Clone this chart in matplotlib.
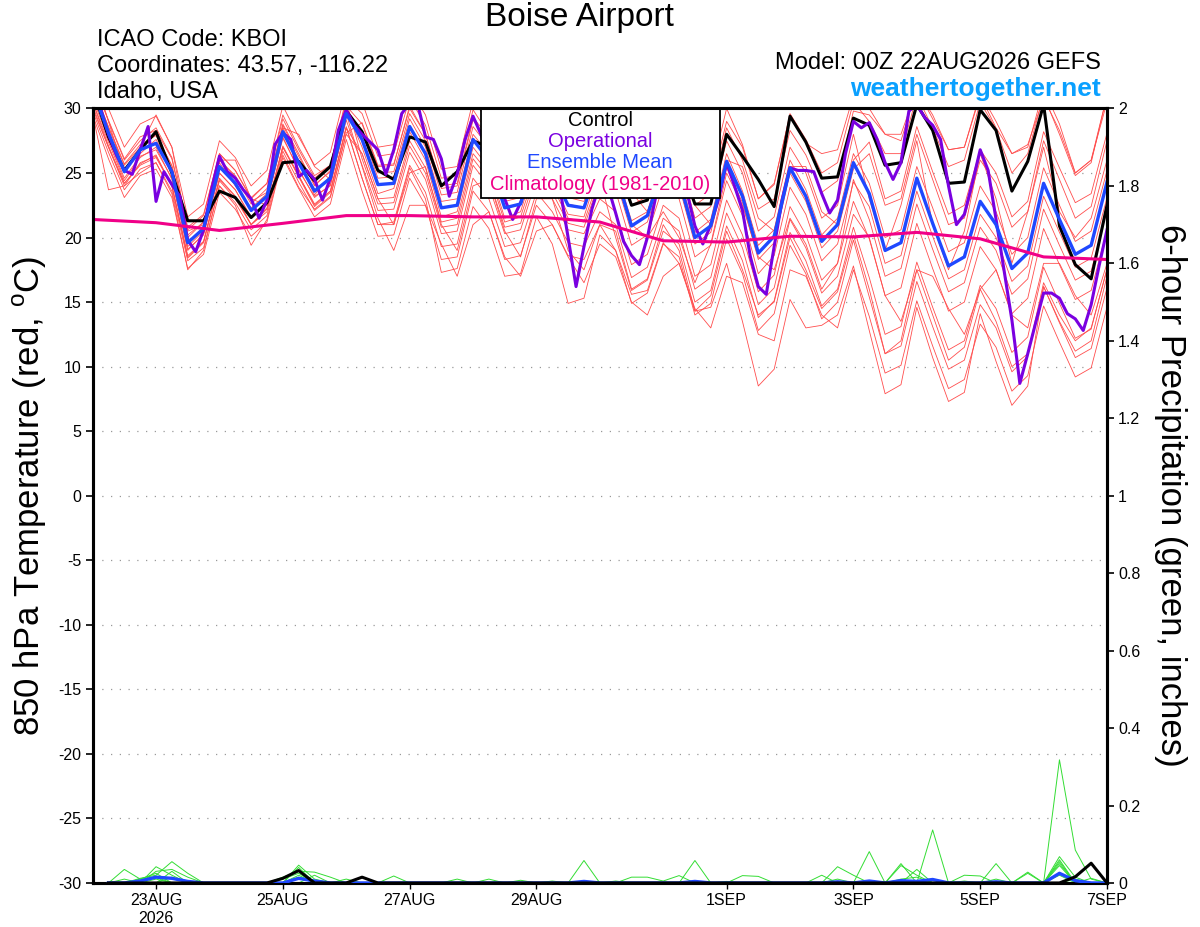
import numpy as np
import matplotlib
matplotlib.use('Agg')
import matplotlib.pyplot as plt
from matplotlib.patches import Rectangle

plt.rcParams['font.family'] = ['Liberation Sans', 'DejaVu Sans']
plt.rcParams['axes.unicode_minus'] = False

# time axis: hours after 00Z 22AUG2026
hours6 = np.arange(65) * 6
hours3 = np.arange(129) * 3
precip_hours = np.arange(1, 65) * 6
clim_hours = np.arange(17) * 24

tick_hours = [24, 72, 120, 168, 240, 288, 336, 384]
tick_labels = ['23AUG\n2026', '25AUG', '27AUG', '29AUG', '1SEP', '3SEP', '5SEP', '7SEP']

# 850 hPa temperature, ensemble members (6-hourly)
m01 = [32.0, 28.5, 25.6, 27.0, 28.0, 25.5, 20.0, 21.2, 26.0, 24.8, 22.8, 23.5, 28.8, 26.5, 24.0, 25.2, 30.2,
       28.8, 25.5, 25.6, 30.2, 28.0, 24.0, 24.2, 29.3, 27.8, 24.0, 24.5, 28.3, 27.0, 24.5, 24.3, 28.2,
       27.8, 24.0, 24.6, 28.6, 27.5, 23.2, 24.0, 29.0, 27.0, 23.0, 24.1, 29.6, 27.6, 25.0, 25.8, 30.5,
       29.0, 26.5, 26.5, 31.0, 28.5, 25.5, 26.0, 30.5, 28.4, 25.0, 26.5, 31.0, 28.0, 24.8, 25.8, 31.0]
m02 = [32.5, 29.0, 26.0, 27.5, 28.5, 26.2, 20.8, 21.8, 26.5, 25.2, 23.0, 24.2, 29.5, 27.0, 24.8, 25.6, 30.8,
       29.6, 26.3, 26.5, 30.8, 28.7, 24.6, 24.8, 29.9, 28.0, 24.5, 24.6, 28.8, 27.2, 25.0, 24.8, 28.5,
       27.5, 23.5, 24.0, 28.3, 27.0, 22.5, 23.4, 28.5, 26.0, 22.2, 23.0, 28.3, 26.4, 23.5, 24.4, 29.8,
       29.5, 28.0, 27.5, 31.5, 29.2, 26.8, 27.0, 31.2, 29.0, 26.5, 27.2, 30.8, 28.3, 25.0, 26.0, 30.5]
m03 = [30.5, 27.4, 24.4, 26.2, 27.0, 24.5, 19.0, 20.3, 25.0, 23.7, 21.5, 22.8, 27.8, 25.2, 23.2, 24.0, 29.4,
       28.3, 25.0, 25.1, 29.6, 27.5, 23.3, 23.5, 28.6, 27.0, 23.3, 23.6, 27.5, 26.0, 23.8, 23.4, 27.3,
       26.4, 22.5, 23.2, 27.0, 26.0, 21.5, 22.4, 27.5, 25.0, 20.5, 21.6, 27.0, 25.0, 21.5, 22.5, 28.0,
       23.0, 19.0, 22.5, 27.5, 21.0, 17.5, 20.5, 26.5, 23.0, 18.0, 22.0, 27.0, 22.0, 20.0, 21.5, 26.0]
m04 = [31.2, 28.0, 25.3, 26.5, 27.6, 25.3, 19.3, 20.5, 25.8, 24.0, 22.3, 23.4, 28.5, 26.0, 23.3, 24.8, 29.9,
       27.0, 23.4, 23.8, 28.2, 26.0, 21.6, 22.0, 27.0, 25.4, 21.5, 22.0, 26.0, 24.4, 21.8, 21.6, 25.5,
       25.3, 21.3, 22.0, 26.0, 25.0, 20.4, 21.4, 26.5, 23.6, 19.4, 20.6, 26.0, 23.7, 20.2, 21.5, 26.5,
       24.2, 20.0, 20.6, 25.5, 22.3, 18.9, 19.6, 24.0, 22.0, 18.7, 20.0, 25.4, 22.5, 19.7, 20.5, 25.2]
m05 = [33.0, 29.0, 25.0, 27.0, 29.5, 27.0, 20.5, 21.0, 26.0, 26.0, 23.0, 22.5, 28.5, 28.0, 25.5, 24.5, 30.0,
       28.2, 24.6, 24.7, 29.2, 27.0, 22.8, 23.0, 28.0, 26.5, 22.8, 23.1, 27.0, 25.5, 23.1, 22.8, 26.5,
       24.5, 20.4, 21.2, 25.0, 24.0, 19.5, 20.4, 25.4, 22.7, 18.3, 19.6, 25.0, 22.8, 19.2, 20.5, 25.3,
       26.5, 22.5, 23.0, 28.0, 24.5, 21.0, 21.5, 26.0, 24.2, 20.8, 22.0, 27.5, 24.5, 21.5, 22.4, 27.5]
m06 = [30.0, 27.0, 24.0, 25.8, 26.3, 24.0, 18.6, 19.7, 24.5, 23.2, 21.0, 22.2, 27.0, 24.8, 22.6, 23.6, 28.5,
       26.5, 23.0, 23.1, 27.5, 25.4, 21.2, 21.5, 26.5, 25.0, 21.2, 21.6, 25.4, 24.0, 21.5, 21.2, 24.8,
       23.6, 19.4, 20.2, 24.0, 23.0, 18.5, 19.4, 24.4, 21.7, 17.2, 18.6, 23.9, 21.8, 18.2, 19.5, 24.3,
       22.4, 18.0, 18.6, 23.6, 20.1, 16.8, 17.5, 21.8, 20.0, 16.6, 17.8, 23.2, 20.4, 17.7, 18.4, 23.1]
m07 = [31.6, 28.6, 25.7, 27.2, 27.9, 25.6, 20.2, 21.2, 26.0, 24.7, 22.6, 23.8, 28.7, 26.3, 24.1, 25.1, 30.0,
       27.6, 24.1, 24.2, 28.6, 26.5, 22.3, 22.5, 27.6, 26.0, 22.3, 22.6, 26.5, 25.0, 22.6, 22.3, 25.4,
       24.5, 21.0, 20.0, 22.0, 20.0, 16.5, 19.5, 25.0, 22.5, 18.5, 17.5, 21.5, 19.5, 16.0, 18.0, 24.5,
       21.4, 17.0, 17.6, 22.6, 19.1, 15.8, 16.5, 20.8, 19.0, 15.6, 16.8, 22.2, 19.4, 16.7, 17.4, 22.1]
m08 = [30.8, 27.6, 24.6, 26.3, 26.8, 24.6, 19.1, 20.2, 25.0, 23.7, 21.6, 22.7, 27.7, 25.3, 23.1, 24.1, 29.1,
       25.6, 22.1, 22.2, 26.6, 24.5, 20.3, 20.5, 25.6, 24.0, 20.3, 20.6, 24.5, 23.0, 20.6, 20.3, 23.0,
       22.0, 17.9, 18.7, 22.5, 21.5, 17.0, 17.9, 22.9, 20.2, 15.8, 17.1, 22.4, 20.2, 16.7, 18.0, 22.8,
       19.9, 15.5, 16.1, 21.1, 17.6, 14.3, 15.0, 19.3, 17.5, 14.1, 15.3, 20.7, 17.9, 15.2, 15.9, 20.6]
m09 = [29.8, 26.6, 23.7, 25.3, 25.8, 23.6, 18.2, 19.2, 24.0, 22.7, 20.6, 21.7, 26.7, 24.3, 22.1, 23.1, 28.1,
       28.9, 25.6, 25.7, 30.0, 28.0, 23.8, 24.0, 29.1, 27.5, 23.8, 24.1, 28.0, 26.5, 24.1, 23.8, 27.3,
       27.0, 23.5, 22.0, 25.5, 26.5, 22.5, 21.0, 26.0, 25.5, 21.5, 20.5, 25.5, 25.5, 22.0, 21.0, 26.0,
       27.4, 23.0, 23.6, 28.6, 25.1, 21.8, 22.5, 26.8, 25.0, 21.6, 22.8, 28.2, 25.4, 22.7, 23.4, 28.1]
m10 = [30.5, 27.1, 24.2, 25.7, 26.4, 24.0, 18.5, 19.7, 24.6, 23.2, 21.0, 22.3, 27.1, 24.8, 22.5, 23.6, 28.6,
       24.6, 21.0, 21.2, 25.6, 23.5, 19.3, 19.5, 24.6, 23.0, 19.3, 19.6, 23.5, 22.0, 19.6, 19.3, 22.0,
       21.0, 16.9, 17.7, 21.5, 20.5, 16.0, 16.9, 21.9, 19.2, 14.8, 16.1, 21.4, 19.2, 15.7, 17.0, 21.8,
       20.0, 15.5, 13.5, 17.5, 17.0, 14.5, 12.5, 16.0, 17.5, 14.0, 13.0, 18.0, 18.0, 15.5, 14.0, 18.0]
m11 = [32.0, 29.1, 26.1, 27.8, 28.3, 26.1, 20.6, 21.7, 26.5, 25.2, 23.1, 24.2, 29.2, 26.8, 24.6, 25.6, 30.6,
       26.1, 22.6, 22.7, 27.1, 25.0, 20.8, 21.0, 26.1, 24.5, 20.8, 21.1, 25.0, 23.5, 21.1, 20.8, 24.5,
       20.0, 15.9, 16.7, 20.5, 19.5, 15.0, 15.9, 20.9, 18.2, 13.8, 15.1, 20.4, 18.2, 14.7, 16.0, 20.8,
       16.9, 12.5, 13.1, 18.1, 14.6, 11.3, 12.0, 16.3, 14.5, 11.1, 12.3, 17.7, 14.9, 12.2, 12.9, 17.6]
m12 = [29.5, 26.1, 23.1, 24.8, 25.3, 23.1, 17.6, 18.7, 23.5, 22.2, 20.1, 21.2, 26.2, 23.8, 21.6, 22.6, 27.6,
       23.6, 20.1, 20.2, 24.6, 22.5, 18.3, 18.5, 23.6, 22.0, 18.3, 18.6, 22.5, 21.0, 18.6, 18.3, 21.0,
       19.0, 14.9, 15.7, 19.5, 18.5, 14.0, 14.9, 19.9, 17.2, 12.8, 14.1, 19.4, 17.2, 13.7, 15.0, 19.8,
       15.4, 11.0, 11.6, 16.6, 13.1, 9.8, 10.5, 14.8, 13.0, 9.6, 10.8, 16.2, 13.4, 10.7, 11.4, 16.1]
m13 = [31.0, 28.1, 25.1, 26.8, 27.3, 25.1, 19.6, 20.7, 25.5, 24.2, 22.1, 23.2, 28.2, 25.8, 23.6, 24.6, 29.6,
       25.5, 21.5, 19.0, 22.5, 22.5, 19.5, 17.0, 21.0, 22.0, 18.5, 17.0, 20.5, 21.0, 18.5, 16.5, 19.5,
       18.5, 15.0, 14.0, 17.0, 18.0, 14.5, 13.0, 17.0, 16.5, 12.5, 12.0, 17.5, 17.0, 14.0, 13.0, 17.5,
       13.9, 9.5, 10.1, 15.1, 11.6, 8.3, 9.0, 13.3, 11.5, 8.1, 9.3, 14.7, 11.9, 9.2, 9.9, 14.6]
m14 = [30.2, 27.0, 24.2, 25.6, 26.2, 24.0, 18.4, 19.6, 24.4, 23.0, 21.0, 22.0, 27.0, 24.7, 22.4, 23.5, 28.5,
       24.6, 21.0, 21.0, 25.4, 23.0, 17.3, 17.6, 22.4, 20.7, 17.0, 17.2, 21.6, 19.5, 14.9, 15.3, 20.2,
       19.0, 15.6, 15.9, 19.6, 18.0, 14.3, 14.6, 18.0, 13.5, 8.5, 9.8, 15.2, 13.0, 13.2, 14.0, 17.8,
       12.8, 7.9, 8.6, 14.6, 10.7, 7.3, 8.0, 14.1, 10.4, 7.0, 8.5, 16.2, 13.5, 11.2, 12.0, 17.0]
m15 = [33.5, 30.0, 27.0, 28.8, 29.4, 27.0, 21.6, 22.6, 27.5, 26.2, 24.0, 25.2, 30.2, 27.8, 25.6, 26.6, 31.5,
       30.5, 27.0, 27.2, 31.5, 29.5, 25.3, 25.5, 30.6, 29.0, 25.4, 25.6, 29.5, 28.0, 25.6, 25.2, 29.0,
       29.0, 25.0, 25.7, 29.5, 28.5, 24.0, 24.9, 30.0, 27.2, 23.0, 24.2, 29.5, 27.3, 26.5, 26.8, 31.0,
       30.0, 28.0, 28.0, 31.5, 29.5, 26.8, 27.0, 31.0, 28.5, 26.5, 27.0, 31.5, 28.8, 25.0, 26.0, 31.0]
m16 = [29.6, 23.7, 24.0, 25.0, 25.8, 23.4, 17.5, 19.0, 24.0, 22.5, 19.4, 21.4, 26.4, 23.9, 22.2, 23.2, 28.0,
       26.5, 23.0, 21.0, 25.0, 25.5, 21.0, 19.0, 24.0, 24.5, 20.5, 18.5, 23.0, 23.0, 19.0, 17.5, 21.0,
       20.5, 16.0, 16.8, 21.0, 19.0, 14.3, 15.5, 20.5, 17.5, 14.0, 15.0, 20.0, 17.5, 14.5, 15.8, 20.2,
       16.0, 11.0, 12.0, 17.5, 14.0, 10.5, 11.5, 16.0, 13.5, 10.0, 11.0, 16.5, 14.0, 12.0, 13.0, 17.5]
members = [m01, m02, m03, m04, m05, m06, m07, m08, m09, m10, m11, m12, m13, m14, m15, m16]

control = [31.5, 27.8, 25.2, 26.8, 28.2, 25.0, 21.3, 21.3, 23.6, 23.1, 21.55, 22.7, 25.8, 25.9, 24.4, 25.5, 29.8,
           28.2, 25.2, 24.5, 27.8, 27.4, 24.0, 25.1, 27.5, 27.0, 25.0, 25.0, 28.0, 26.0, 24.0, 24.0, 27.0,
           26.0, 22.5, 22.9, 27.0, 26.0, 22.6, 22.6, 28.0, 26.3, 24.5, 22.4, 29.4, 27.4, 24.6, 24.7, 29.25,
           28.7, 25.6, 25.8, 30.3, 28.3, 24.2, 24.3, 29.9, 28.3, 23.6, 25.9, 30.3, 20.9, 17.9, 16.8, 22.5]

ens_mean = [31.5, 28.1, 25.1, 26.8, 27.3, 25.1, 19.6, 20.7, 25.5, 24.2, 22.1, 23.2, 28.2, 25.8, 23.6, 24.6, 29.6,
            27.6, 24.1, 24.2, 28.6, 26.5, 22.3, 22.5, 27.6, 26.0, 22.3, 22.6, 26.5, 25.0, 22.5, 22.3, 26.0,
            25.0, 20.9, 21.7, 25.5, 24.5, 20.0, 20.9, 25.9, 23.2, 18.8, 20.1, 25.4, 23.2, 19.7, 21.0, 25.8,
            23.4, 19.0, 19.6, 24.6, 21.1, 17.8, 18.5, 22.8, 21.0, 17.6, 18.8, 24.2, 21.4, 18.7, 19.4, 24.3]

# operational run (3-hourly)
operational = [31.5, 30.0, 28.0, 26.4, 25.2, 24.9, 26.8, 28.6, 22.8, 25.1, 24.1, 23.2, 19.8, 18.9, 20.6, 23.7,
               26.3, 25.1, 24.6, 23.7, 23.0, 21.5, 22.9, 27.2, 28.1, 27.6, 24.7, 25.2, 24.5, 22.9, 24.6, 28.3,
               29.9, 28.7, 28.0, 27.4, 26.8, 24.9, 26.8, 29.6, 30.4, 30.4, 27.8, 27.6, 26.1, 23.2, 24.9, 27.6,
               29.4, 28.0, 26.0, 24.0, 23.0, 21.4, 22.7, 24.5, 27.0, 27.0, 26.0, 23.7, 20.0, 16.2, 19.3, 22.2,
               24.2, 24.0, 21.9, 19.7, 18.6, 17.9, 20.0, 23.0, 25.0, 26.0, 25.0, 23.5, 20.9, 19.5, 21.0, 23.0,
               25.8, 24.0, 22.1, 18.5, 16.2, 15.6, 19.3, 22.9, 25.4, 25.2, 25.2, 25.1, 23.4, 21.9, 22.9, 26.5,
               29.0, 28.5, 28.9, 27.6, 25.8, 24.5, 25.8, 29.8, 30.3, 29.3, 28.7, 27.6, 24.0, 21.0, 21.8, 24.2,
               26.8, 25.2, 21.4, 17.5, 13.6, 8.7, 11.0, 13.4, 15.7, 15.7, 15.3, 14.1, 13.7, 12.8, 14.8, 17.8,
               20.6]

# daily climatology (1981-2010)
climatology = [21.4, 21.15, 20.55, 21.1, 21.7, 21.7, 21.6, 21.6, 21.2, 19.75, 19.65, 20.1, 20.05, 20.4, 19.9, 18.5, 18.3]

# 6-hour precipitation (inches), 06Z 22AUG .. 00Z 7SEP
p01 = [0, .035, .01, .015, 0, 0, 0, 0, 0, 0, 0, 0, .046, .01, 0, 0,
       0, 0, 0, 0, 0, 0, 0, 0, 0, 0, 0, 0, 0, 0, .058, 0,
       0, 0, 0, 0, 0, 0, 0, 0, 0, 0, 0, 0, 0, 0, 0, 0,
       .081, 0, 0, 0, 0, 0, 0, 0, 0, 0, 0, 0, .318, .085, .01, 0]
p02 = [0, 0, 0, .042, .02, 0, 0, 0, 0, 0, 0, .015, .03, .028, .015, 0,
       0, 0, 0, 0, 0, 0, 0, 0, 0, 0, 0, 0, 0, 0, 0, 0,
       0, 0, 0, 0, 0, .058, 0, 0, 0, 0, 0, 0, 0, 0, 0, 0,
       0, 0, 0, 0, .137, 0, 0, 0, 0, 0, 0, 0, .068, .015, 0, 0]
p03 = [0, 0, .012, .02, .055, .025, 0, 0, 0, 0, 0, 0, .04, 0, 0, 0,
       0, 0, .018, 0, 0, 0, 0, 0, 0, 0, 0, 0, 0, 0, 0, 0,
       0, 0, 0, 0, 0, 0, 0, 0, 0, 0, 0, 0, 0, 0, .042, .02,
       0, 0, .05, 0, 0, 0, 0, 0, 0, 0, 0, 0, .06, 0, 0, 0]
p04 = [0, 0, 0, .03, .035, .015, 0, 0, 0, 0, 0, .01, .025, 0, 0, .01,
       0, 0, 0, 0, 0, 0, .01, 0, 0, 0, 0, 0, 0, 0, 0, 0,
       0, 0, 0, 0, 0, 0, 0, 0, .019, .017, 0, 0, 0, 0, 0, 0,
       0, 0, 0, .035, 0, 0, 0, 0, 0, 0, 0, 0, .055, 0, 0, 0]
p05 = [0, 0, .01, .025, 0, 0, 0, 0, 0, 0, 0, 0, .02, 0, 0, 0,
       0, 0, 0, 0, 0, 0, 0, 0, .01, 0, 0, 0, 0, 0, 0, 0,
       0, .015, .015, .005, .019, 0, 0, 0, 0, 0, 0, 0, 0, 0, 0, 0,
       0, 0, 0, 0, 0, 0, 0, 0, .05, 0, 0, 0, .05, 0, 0, 0]
p06 = [0, 0, 0, 0, .03, 0, 0, 0, 0, 0, 0, 0, 0, .02, 0, 0,
       0, 0, 0, 0, 0, 0, 0, 0, 0, 0, .007, 0, 0, 0, 0, 0,
       0, 0, 0, 0, 0, 0, 0, 0, 0, 0, 0, 0, 0, .02, 0, 0,
       0, 0, .045, .02, 0, 0, .02, .018, 0, 0, .028, 0, .045, 0, 0, 0]
p07 = [0, 0, 0, .01, 0, 0, 0, 0, 0, 0, 0, 0, .015, 0, 0, 0,
       0, 0, 0, 0, 0, 0, 0, 0, 0, 0, 0, 0, .005, 0, 0, 0,
       .005, 0, 0, 0, 0, 0, 0, 0, 0, 0, 0, 0, 0, 0, 0, 0,
       0, 0, .01, .015, 0, 0, 0, 0, 0, 0, .025, 0, .02, 0, .012, 0]
p08 = [0, .01, 0, 0, .015, 0, 0, 0, 0, 0, 0, 0, 0, 0, 0, 0,
       0, 0, 0, 0, 0, 0, 0, 0, 0, 0, 0, 0, 0, 0, 0, 0,
       0, 0, 0, 0, 0, 0, 0, .004, 0, 0, 0, 0, 0, 0, .01, 0,
       0, 0, 0, 0, .01, 0, .005, 0, .01, 0, 0, 0, 0, .01, 0, 0]
precip_members = [p01, p02, p03, p04, p05, p06, p07, p08]

precip_mean = [0, 0, .005, .015, .012, .004, 0, 0, 0, 0, 0, 0, .012, .005, 0, 0,
               0, 0, 0, 0, 0, 0, 0, 0, 0, 0, 0, 0, 0, 0, .004, 0,
               0, 0, 0, 0, 0, .004, 0, 0, 0, 0, 0, 0, 0, 0, .003, 0,
               .005, 0, .006, .004, .009, 0, 0, 0, .003, 0, 0, 0, .025, .006, 0, 0]
precip_control = [0, 0, 0, 0, 0, 0, 0, 0, 0, 0, 0, .012, .032, 0, 0, 0,
                  .015, 0, 0, 0, 0, 0, 0, 0, 0, 0, 0, 0, 0, 0, 0, 0,
                  0, 0, 0, 0, 0, 0, 0, 0, 0, 0, 0, 0, 0, 0, 0, 0,
                  0, 0, 0, 0, 0, 0, 0, 0, 0, 0, 0, 0, 0, .016, .051, 0]

fig = plt.figure(figsize=(12, 9.27), dpi=100)
ax = fig.add_axes([0.0772, 0.0475, 0.8453, 0.8355])

for m in members:
    ax.plot(hours6, m, color='#ff4d4d', lw=0.6, zorder=2)
ax.plot(hours6, control, color='black', lw=2.2, zorder=4)
ax.plot(hours3, operational, color='#7a00e0', lw=2.2, zorder=5)
ax.plot(hours6, ens_mean, color='#1f48ff', lw=2.4, zorder=6)
ax.plot(clim_hours, climatology, color='#f00088', lw=2.2, zorder=7)

ax.set_xlim(0, 384)
ax.set_ylim(-30, 30)
ax.set_yticks(range(-30, 31, 5))
ax.set_xticks(tick_hours)
ax.set_xticklabels(tick_labels, linespacing=1.3)
ax.yaxis.grid(True, linestyle=(0, (1, 6)), color='#999999', lw=0.9)
ax.set_axisbelow(True)
ax.tick_params(axis='y', direction='out', length=5, width=1.2, labelsize=11.5, pad=3)
ax.tick_params(axis='x', direction='out', length=4, width=1, labelsize=11.5, pad=3)
for s in ax.spines.values():
    s.set_linewidth(2.2)

# legend box
ax.add_patch(Rectangle((0.383, 0.8845), 0.235, 0.1155, transform=ax.transAxes,
                       facecolor='white', edgecolor='black', lw=1.3, zorder=20, clip_on=False))
leg = [('Control', 'black', 0.9839), ('Operational', '#7a00e0', 0.9567),
       ('Ensemble Mean', '#1f48ff', 0.9296), ('Climatology (1981-2010)', '#f00088', 0.9012)]
for txt, col, yy in leg:
    ax.text(0.5003, yy, txt, color=col, fontsize=14.5, ha='center', va='center',
            transform=ax.transAxes, zorder=21)

ax2 = ax.twinx()
for p in precip_members:
    ax2.plot(precip_hours, p, color='#33dd33', lw=0.7, zorder=2)
ax2.plot(precip_hours, precip_mean, color='#1f48ff', lw=2.4, zorder=3)
ax2.plot(precip_hours, precip_control, color='black', lw=2.2, zorder=4)
ax2.set_ylim(0, 2)
rticks = np.round(np.arange(0, 2.01, 0.2), 1)
ax2.set_yticks(rticks)
ax2.set_yticklabels([f'{v:g}' for v in rticks])
ax2.tick_params(axis='y', direction='out', length=5, width=1.2, labelsize=11.5, pad=3)
for s in ax2.spines.values():
    s.set_linewidth(2.2)

# titles and labels
fig.text(0.483, 0.9806, 'Boise Airport', fontsize=24, ha='center', va='center')
fig.text(0.0808, 0.9568, 'ICAO Code: KBOI', fontsize=17, ha='left', va='center')
fig.text(0.0808, 0.9288, 'Coordinates: 43.57, -116.22', fontsize=17, ha='left', va='center')
fig.text(0.0808, 0.9008, 'Idaho, USA', fontsize=17, ha='left', va='center')
fig.text(0.9175, 0.932, 'Model: 00Z 22AUG2026 GEFS', fontsize=17, ha='right', va='center')
fig.text(0.9175, 0.904, 'weathertogether.net', fontsize=19, fontweight='bold',
         color='#0aa0ff', ha='right', va='center')
fig.text(0.025, 0.4655, r'850 hPa Temperature (red, $^\mathregular{o}$C)', fontsize=25,
         rotation=90, ha='center', va='center')
fig.text(0.975, 0.4655, '6-hour Precipitation (green, inches)', fontsize=25,
         rotation=-90, ha='center', va='center')

fig.savefig('out.png', dpi=100)
